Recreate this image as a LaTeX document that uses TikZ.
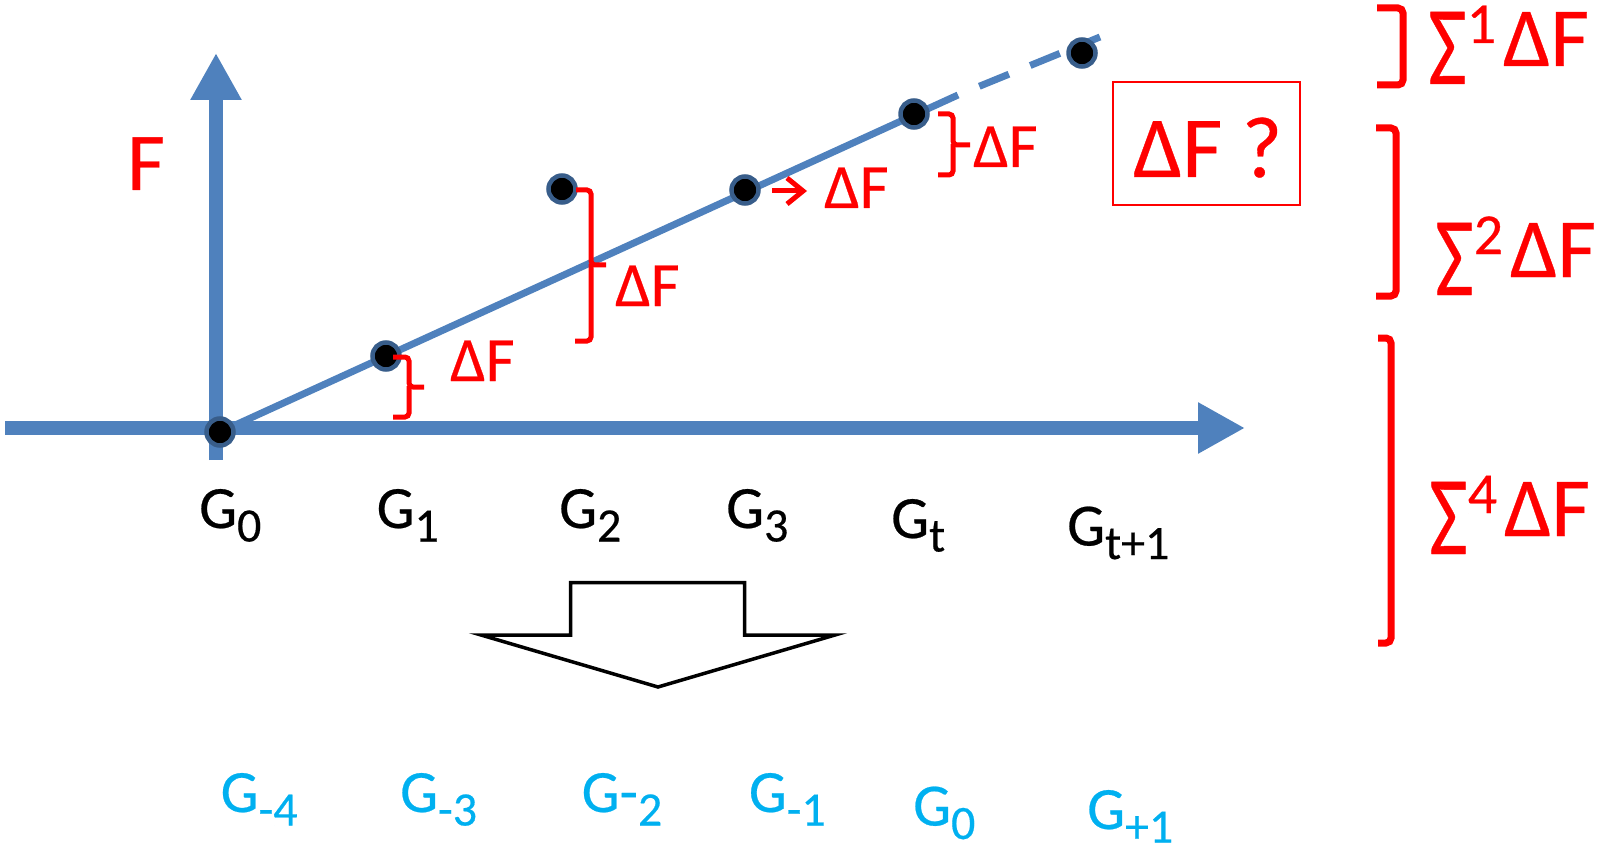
\documentclass[tikz,border=0pt]{standalone}
\usepackage{fontspec}
\setmainfont{Carlito}[FakeBold=0.4]
\usetikzlibrary{arrows.meta}
\definecolor{axisblue}{HTML}{4F81BD}
\definecolor{dotrim}{HTML}{385D8A}
\definecolor{lblue}{HTML}{00B0F0}
\newcommand{\subG}[1]{\raisebox{-13.5pt}{\fontsize{48}{48}\selectfont #1}}
\newcommand{\supS}[1]{\raisebox{23pt}{\fontsize{58}{58}\selectfont #1}\kern7pt}
\newcommand{\bigSig}{\raisebox{-18pt}{\scalebox{1}[1.34]{Σ}}}
\begin{document}
\begin{tikzpicture}[x=1pt,y=-1pt,
  axis/.style={line width=14pt, draw=axisblue, -{Triangle[length=47pt,width=48pt]}},
  trend/.style={line width=7pt, draw=axisblue},
  dot/.style={circle, fill=black, draw=dotrim, line width=4.5pt, minimum size=27pt, inner sep=0pt},
  brace/.style={draw=red, line width=5pt, rounded corners=4pt},
  sbrace/.style={draw=red, line width=7pt, rounded corners=5pt},
  glab/.style={anchor=base west, inner sep=0pt, text depth=0pt, font=\fontsize{60}{60}\selectfont},
  dlab/.style={anchor=base west, inner sep=0pt, text=red, font=\fontsize{63}{63}\selectfont},
  slab/.style={anchor=base west, inner sep=0pt, text=red, font=\fontsize{84}{84}\selectfont},
]
\useasboundingbox (0,0) rectangle (1608,850);

% axes
\coordinate (hstart) at (5,428);
\coordinate (hend) at (1245,428);
\coordinate (vstart) at (216,460);
\coordinate (vend) at (216,53);
\draw[axis] (hstart) -- (hend);
\draw[axis] (vstart) -- (vend);

% point positions
\coordinate (p0) at (220,432);
\coordinate (p1) at (386,356);
\coordinate (p2) at (562,189);
\coordinate (p3) at (745,190);
\coordinate (pt) at (914,114);
\coordinate (pt1) at (1082,53);
\coordinate (solidend) at (958,95);
\coordinate (dashend) at (1100,37);

% trend line
\draw[trend] (p0) -- (solidend);
\draw[trend, dash pattern=on 32pt off 23pt, dash phase=32pt] (solidend) -- (dashend);

% dots
\node[dot] (g0) at (p0) {};
\node[dot] (g1) at (p1) {};
\node[dot] (g2) at (p2) {};
\node[dot] (g3) at (p3) {};
\node[dot] (gt) at (pt) {};
\node[dot] (gt1) at (pt1) {};

% small braces
\draw[brace] (393,357) -| (409,387) -- (424,387);
\draw[brace] (409,386) |- (393,417);
\draw[brace] (576,190) -| (591,265) -- (606,265);
\draw[brace] (591,264) |- (575,341);
\draw[brace] (938,114) -| (953,145) -- (970,145);
\draw[brace] (953,144) |- (938,175);

% small arrow at G3
\coordinate (astart) at (772,191);
\coordinate (aend) at (807,191);
\draw[red, line width=5pt, -{Straight Barb[length=16pt,width=26pt]}] (astart) -- (aend);

% delta F labels
\node[dlab] (d1) at (450,381) {ΔF};
\node[dlab] (d2) at (615,306) {ΔF};
\node[dlab] (d3) at (824,208) {ΔF};
\node[dlab] (d4) at (973,167) {ΔF};
\node[anchor=base west, inner sep=0pt, text=red, font=\fontsize{82}{82}\selectfont] (flab) at (127,190) {F};

% question box
\node[draw=red, line width=1.5pt, minimum width=187pt, minimum height=123pt, inner sep=0pt] (qbox) at (1206.5,143.5) {};
\node[anchor=base west, inner sep=0pt, text=red, font=\fontsize{87}{87}\selectfont] (qtext) at (1133,177) {ΔF ?};

% right brackets
\draw[sbrace] (1377,8) -| (1403,85) -- (1377,85);
\draw[sbrace] (1376,128) -| (1396,296) -- (1376,296);
\draw[sbrace] (1378,338) -| (1391,643) -- (1378,643);
\node[slab] (s1) at (1428,66) {\bigSig\supS{1}ΔF};
\node[slab] (s2) at (1435,277) {\bigSig\supS{2}ΔF};
\node[slab] (s4) at (1429,536) {\bigSig\supS{4}ΔF};

% G labels
\node[glab] (lg0) at (199,528) {G\subG{0}};
\node[glab] (lg1) at (376.5,528) {G\subG{1}};
\node[glab] (lg2) at (559,528) {G\subG{2}};
\node[glab] (lg3) at (726,528) {G\subG{3}};
\node[glab] (lgt) at (891,538) {G\subG{t}};
\node[glab] (lgt1) at (1067,545.5) {G\subG{t+1}};

% block arrow
\draw[line width=3.5pt, line join=miter] (570.6,582.7) -- (744.7,582.7) -- (744.7,635) -- (835,635) -- (658,687) -- (481,635) -- (570.6,635) -- cycle;

% blue labels
\node[glab, text=lblue] (bm4) at (220.5,812) {G\subG{-4}};
\node[glab, text=lblue] (bm3) at (400,812) {G\subG{-3}};
\node[glab, text=lblue] (bm2) at (581.5,812) {G-\subG{2}};
\node[glab, text=lblue] (bm1) at (748.7,812) {G\subG{-1}};
\node[glab, text=lblue] (b0) at (913,825.5) {G\subG{0}};
\node[glab, text=lblue] (bp1) at (1087,829) {G\subG{+1}};
\end{tikzpicture}
\end{document}
